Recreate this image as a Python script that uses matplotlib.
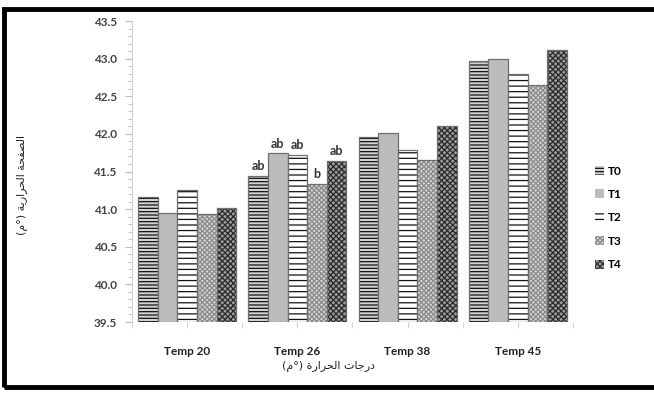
import matplotlib
matplotlib.use("Agg")
import matplotlib.pyplot as plt
from matplotlib.patches import Rectangle
import numpy as np

plt.rcParams['font.family'] = ['Lato', 'DejaVu Sans']
plt.rcParams['hatch.linewidth'] = 0.9

categories = ["Temp 20", "Temp 26", "Temp 38", "Temp 45"]
series = ["T0", "T1", "T2", "T3", "T4"]
T0 = [41.16, 41.44, 41.96, 42.97]
T1 = [40.95, 41.74, 42.01, 43.00]
T2 = [41.25, 41.72, 41.79, 42.80]
T3 = [40.94, 41.34, 41.65, 42.65]
T4 = [41.01, 41.64, 42.10, 43.11]
letters_26 = ["ab", "ab", "ab", "b", "ab"]
yticks = [39.5, 40.0, 40.5, 41.0, 41.5, 42.0, 42.5, 43.0, 43.5]

xlabel_ar = "درجات الحرارة (°م)"
ylabel_ar = "الصفحة الحرارية (°م)"

# arabic shaping by hand (matplotlib does not join/reorder arabic)
FORMS = {
    'ا': ('\uFE8D', '\uFE8E', None, None),
    'د': ('\uFEA9', '\uFEAA', None, None),
    'ر': ('\uFEAD', '\uFEAE', None, None),
    'ة': ('\uFE93', '\uFE94', None, None),
    'ج': ('\uFE9D', '\uFE9E', '\uFE9F', '\uFEA0'),
    'ت': ('\uFE95', '\uFE96', '\uFE97', '\uFE98'),
    'ل': ('\uFEDD', '\uFEDE', '\uFEDF', '\uFEE0'),
    'ح': ('\uFEA1', '\uFEA2', '\uFEA3', '\uFEA4'),
    'ص': ('\uFEB9', '\uFEBA', '\uFEBB', '\uFEBC'),
    'ف': ('\uFED1', '\uFED2', '\uFED3', '\uFED4'),
    'ي': ('\uFEF1', '\uFEF2', '\uFEF3', '\uFEF4'),
    'م': ('\uFEE1', '\uFEE2', '\uFEE3', '\uFEE4'),
}


def shape(s):
    out = []
    for i, c in enumerate(s):
        if c not in FORMS:
            out.append(c)
            continue
        prev = s[i - 1] if i > 0 else ''
        nxt = s[i + 1] if i + 1 < len(s) else ''
        jp = prev in FORMS and FORMS[prev][2] is not None
        jn = FORMS[c][2] is not None and nxt in FORMS
        iso, fin, ini, med = FORMS[c]
        if jp and jn:
            out.append(med)
        elif jp:
            out.append(fin)
        elif jn:
            out.append(ini)
        else:
            out.append(iso)
    vis = ''.join(reversed(out))
    return vis.translate(str.maketrans('()', ')('))


fig = plt.figure(figsize=(6.54, 3.94), dpi=100)
ax = fig.add_axes([0.2018, 0.1827, 0.6743, 0.7640])

values = [T0, T1, T2, T3, T4]
faces = ['#d2d2d2', '#bcbcbc', '#ffffff', '#d4d4d4', '#9c9c9c']
hatches = ['-----', None, '---', 'xxxxxxx', 'xxxxxx']
hcols = ['#111111', '#bcbcbc', '#111111', '#8c8c8c', '#2a2a2a']
x = np.arange(len(categories))
w = 0.178

for i, (name, vals) in enumerate(zip(series, values)):
    pos = x + (i - 2) * w
    h = np.array(vals) - 39.5
    ax.bar(pos, h, w, bottom=39.5, color=faces[i], hatch=hatches[i],
           edgecolor=hcols[i], linewidth=0, label=name)
    ax.bar(pos, h, w, bottom=39.5, fill=False, edgecolor='#6e6e6e',
           linewidth=0.9)
    ax.text(pos[1], vals[1] + 0.05, letters_26[i], ha='center', va='bottom',
            fontsize=9, fontweight='bold', color='#333333')

ax.set_xlim(-0.5, 3.5)
ax.set_ylim(39.5, 43.5)
ax.set_yticks(yticks)
ax.set_yticklabels([f"{v:.1f}" for v in yticks], fontsize=8.5,
                   fontweight='bold', color='#444444')
ax.set_yticks(np.arange(39.5, 43.51, 0.1), minor=True)
ax.set_xticks(x)
ax.set_xticklabels(categories, fontsize=8.5, fontweight='bold',
                   color='#222222')
ax.set_xticks(np.arange(-0.5, 3.6, 1.0), minor=True)
ax.tick_params(axis='y', which='major', length=5, color='#bbbbbb', pad=6)
ax.tick_params(axis='y', which='minor', length=3, color='#bbbbbb')
ax.tick_params(axis='x', which='both', length=4, color='#d0d0d0', pad=13)

for s in ['top', 'right', 'bottom']:
    ax.spines[s].set_visible(False)
ax.spines['left'].set_color('#d0d0d0')

fig.text(0.502, 0.069, shape(xlabel_ar), ha='center', va='center',
         fontsize=8, color='#222222', family=['DejaVu Sans'])
fig.text(0.034, 0.53, shape(ylabel_ar), rotation=90, ha='center',
         va='center', fontsize=8, color='#222222', family=['DejaVu Sans'])

leg = fig.legend(loc='center left', bbox_to_anchor=(0.893, 0.447),
                 frameon=False, handlelength=0.8,
                 handleheight=0.8, handletextpad=0.3, labelspacing=1.05,
                 prop={'weight': 'bold', 'size': 8.5})

fig.patches.append(Rectangle((0.006, 0.018), 1.1, 0.96, transform=fig.transFigure,
                             fill=False, edgecolor='black', linewidth=3.5))

fig.savefig("out.png", dpi=100)
